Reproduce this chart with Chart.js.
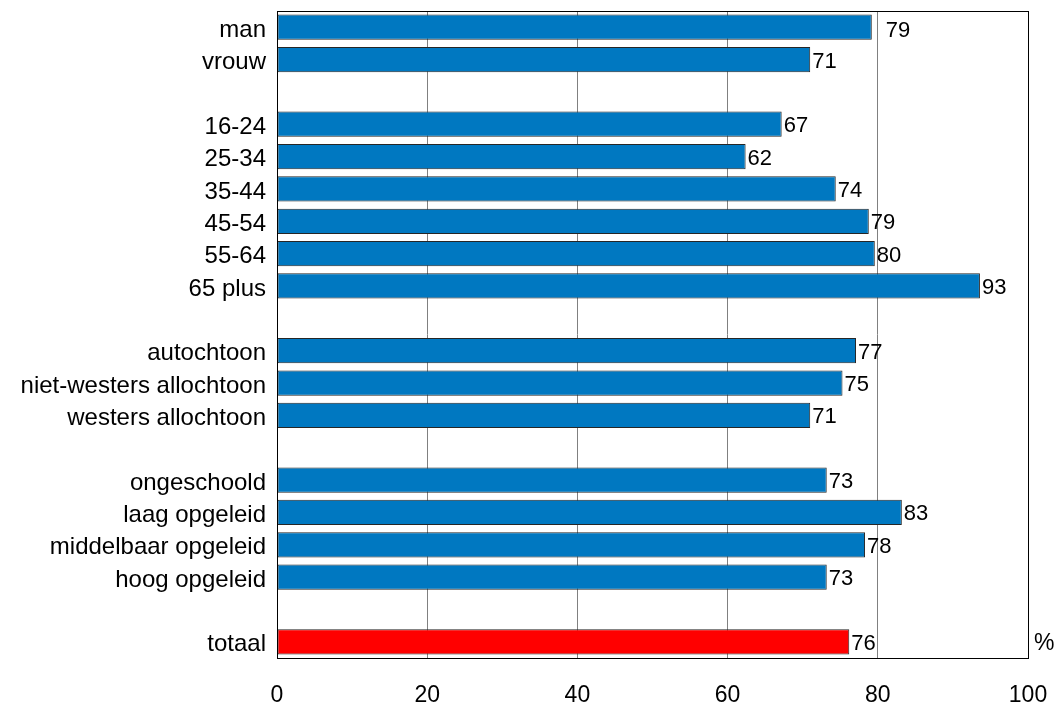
<!DOCTYPE html>
<html>
<head>
<meta charset="utf-8">
<script src="https://cdn.jsdelivr.net/npm/chart.js@4/dist/chart.umd.min.js"></script>
<style>
  html, body { margin: 0; padding: 0; background: #fff; }
  #wrap { width: 1057px; height: 705px; }
</style>
</head>
<body>
<div id="wrap"><canvas id="chart"></canvas></div>
<script>
// categories (empty strings are the gaps between groups)
const categories = ['man', 'vrouw', '',
    '16-24', '25-34', '35-44', '45-54', '55-64', '65 plus', '',
    'autochtoon', 'niet-westers allochtoon', 'westers allochtoon', '',
    'ongeschoold', 'laag opgeleid', 'middelbaar opgeleid', 'hoog opgeleid', '',
    'totaal'];
const values = [79.2, 71.0, null,
    67.2, 62.4, 74.4, 78.8, 79.6, 93.6, null,
    77.1, 75.3, 71.0, null,
    73.2, 83.2, 78.3, 73.2, null,
    76.2];
const labels = [79, 71, null, 67, 62, 74, 79, 80, 93, null, 77, 75, 71, null, 73, 83, 78, 73, null, 76];
const xTicks = [0, 20, 40, 60, 80, 100];

const blue = '#0078C1';
const red = '#FF0000';
const colors = categories.map(c => c === 'totaal' ? red : blue);

const FONT = 'Liberation Sans, Arial, sans-serif';

const extras = {
    id: 'extras',
    afterDatasetsDraw(chart) {
        const ctx = chart.ctx;
        const a = chart.chartArea;
        const meta = chart.getDatasetMeta(0);
        ctx.save();
        // frame
        ctx.strokeStyle = '#000';
        ctx.lineWidth = 1;
        ctx.strokeRect(a.left + 0.5, a.top + 0.5, a.right - a.left, a.bottom - a.top);
        // value labels
        ctx.fillStyle = '#000';
        ctx.font = '22px ' + FONT;
        ctx.textBaseline = 'middle';
        ctx.textAlign = 'left';
        meta.data.forEach((bar, i) => {
            if (labels[i] === null) return;
            const off = i === 0 ? 14 : 2;
            ctx.fillText(String(labels[i]), bar.x + off, bar.y + (i === 0 ? 4 : 2));
        });
        // unit
        const last = meta.data[meta.data.length - 1];
        ctx.font = '23px ' + FONT;
        ctx.fillText('%', a.right + 6, last.y + 2);
        ctx.restore();
    }
};

new Chart(document.getElementById('chart'), {
    type: 'bar',
    data: {
        labels: categories,
        datasets: [{
            data: values,
            backgroundColor: colors,
            borderColor: '#262626',
            borderWidth: 1,
            borderSkipped: false,
            barPercentage: 0.78,
            categoryPercentage: 1
        }]
    },
    options: {
        indexAxis: 'y',
        responsive: true,
        maintainAspectRatio: false,
        animation: false,
        layout: { padding: { top: 11, right: 29, left: 0, bottom: 0 } },
        plugins: {
            legend: { display: false },
            tooltip: { enabled: false }
        },
        scales: {
            x: {
                min: 0,
                max: 100,
                afterBuildTicks(scale) { scale.ticks = xTicks.map(v => ({ value: v })); },
                afterFit(scale) {
                    scale.height = 47;
                    scale.paddingLeft = 0;
                    scale.paddingRight = 0;
                },
                grid: { color: '#808080', lineWidth: 1, drawTicks: false },
                border: { color: '#000' },
                ticks: {
                    color: '#000',
                    padding: 24,
                    font: { family: FONT, size: 23 }
                }
            },
            y: {
                afterFit(scale) {
                    scale.width = 277;
                    scale.paddingTop = 0;
                    scale.paddingBottom = 0;
                },
                grid: { display: false, drawTicks: false },
                border: { color: '#000' },
                ticks: {
                    color: '#000',
                    padding: 11,
                    labelOffset: 3,
                    autoSkip: false,
                    font: { family: FONT, size: 24 }
                }
            }
        }
    },
    plugins: [extras]
});
</script>
</body>
</html>
